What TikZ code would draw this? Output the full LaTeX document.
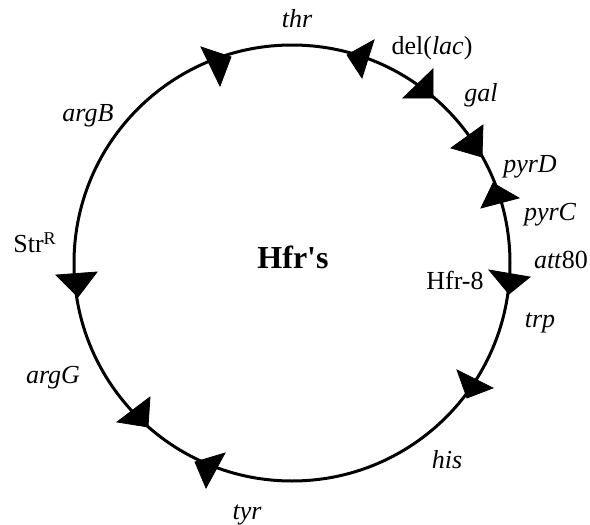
\documentclass[tikz,border=0pt]{standalone}
\usepackage{fontspec}
\setmainfont{Liberation Serif}
\usetikzlibrary{positioning}

\begin{document}
\begin{tikzpicture}[
    x=0.5pt, y=-0.5pt,
    ring/.style={line width=1.5pt, draw=black},
    marker/.style={fill=black, draw=black, line join=miter},
    lbl/.style={font=\fontsize{13}{15}\selectfont, inner sep=0pt, anchor=base},
    gene/.style={lbl, font=\fontsize{13}{15}\selectfont\itshape},
    title/.style={font=\fontsize{16}{18}\selectfont\bfseries, inner sep=0pt, anchor=base}
]
\useasboundingbox (0,0) rectangle (590,525);
\coordinate (ctr) at (292,263);
\draw[ring] (ctr) circle[radius=109pt];
% transfer markers on the ring
\foreach \ax/\ay/\bx/\by/\cx/\cy in {201/47/231/57/220/86, 374/40/347/55/362/78, 433/69/403/98/433/98,
    483/125/451/148/482/157, 493/183/519/198/481/208, 489/270/530/277/509/294,
    457/370/493/388/467/398, 117/422/150/397/148/427, 195/462/225/453/206/488,
    56/275/97/272/78/297}
  \fill[marker] (\ax,\ay) -- (\bx,\by) -- (\cx,\cy) -- cycle;
\node[title] (hfrs) at (293,268) {Hfr\textquotesingle s};
\node[gene] (thr) at (297,27) {thr};
\node[lbl] (lac) at (432,54) {del(\textit{lac})};
\node[gene] (gal) at (481,101) {gal};
\node[gene] (pyrD) at (530,172) {pyrD};
\node[gene] (pyrC) at (550,220) {pyrC};
\node[lbl] (att) at (561,268) {\textit{att}80};
\node[lbl] (hfr8) at (455,289) {Hfr-8};
\node[gene] (trp) at (540,327) {trp};
\node[gene] (his) at (447,468) {his};
\node[gene] (tyr) at (247,519) {tyr};
\node[gene] (argG) at (53,383) {argG};
\node[lbl, anchor=base west] (str) at (13,252) {Str\raisebox{3.9pt}{\fontsize{9}{9}\selectfont R}};
\node[gene] (argB) at (88,121) {argB};
\end{tikzpicture}
\end{document}
